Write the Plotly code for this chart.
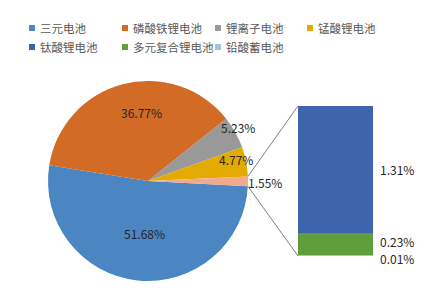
import math
import plotly.graph_objects as go

# ---- data ----
pie_labels = ["三元电池", "磷酸铁锂电池", "锂离子电池", "锰酸锂电池", "其他"]
pie_values = [51.68, 36.77, 5.23, 4.77, 1.55]
bar_labels = ["铅酸蓄电池", "多元复合锂电池", "钛酸锂电池"]
bar_values = [0.01, 0.23, 1.31]
legend_names = ["三元电池", "磷酸铁锂电池", "锂离子电池", "锰酸锂电池",
                "钛酸锂电池", "多元复合锂电池", "铅酸蓄电池"]

# ---- style ----
W, H = 437, 304
FONT = "Noto Sans CJK SC"
pie_colors = ["#4B86C3", "#D16B26", "#999999", "#E3AA00", "#F0AA90"]
bar_colors = ["#9DC3E6", "#5F9E3A", "#3E64AE"]
legend_colors = ["#4B86C3", "#D16B26", "#999999", "#E3AA00",
                 "#3E64AE", "#5F9E3A", "#9DC3E6"]

cx, cy, R = 148, 181, 100          # pie centre / radius in px
rotation = 93                      # start angle of first slice (clockwise from 12 o'clock)
bar_x0, bar_x1 = 298, 373          # bar left/right px
bar_top, bar_bot = 106, 256        # bar top/bottom px

def px(x):
    return x / W

def py(y):
    return 1 - y / H

fig = go.Figure()

fig.add_trace(go.Pie(
    labels=pie_labels, values=pie_values, sort=False, direction="clockwise",
    rotation=rotation, textinfo="none", hoverinfo="label+percent",
    marker=dict(colors=pie_colors, line=dict(width=0)),
    domain=dict(x=[px(cx - R), px(cx + R)], y=[py(cy + R), py(cy - R)]),
    showlegend=False,
))

for lab, val, col in zip(bar_labels, bar_values, bar_colors):
    fig.add_trace(go.Bar(x=[0], y=[val], name=lab, width=1,
                         marker=dict(color=col, line=dict(width=0)),
                         showlegend=False, xaxis="x", yaxis="y"))

total_bar = sum(bar_values)

# ---- connector lines from the "other" slice to the bar ----
start_other = rotation - pie_values[-1] / sum(pie_values) * 360
angles = [start_other, rotation]
for ang, by in zip(angles, [bar_top, bar_bot]):
    a = math.radians(ang)
    x0 = cx + R * math.sin(a)
    y0 = cy - R * math.cos(a)
    fig.add_shape(type="line", xref="paper", yref="paper",
                  x0=px(x0), y0=py(y0), x1=px(bar_x0), y1=py(by),
                  line=dict(color="#7F7F7F", width=1))

# ---- pie labels ----
pie_label_pos = [(122, 244), (119, 112), (238, 127), (236, 159), (265, 182)]
for v, (lx, ly) in zip(pie_values, pie_label_pos):
    fig.add_annotation(x=px(lx), y=py(ly), xref="paper", yref="paper",
                       text=f"{v:.2f}%", showarrow=False,
                       font=dict(family=FONT, size=12, color="#262626"))

# ---- bar labels ----
cum = 0
shifts = [-3, 2, 0]
for v, s in zip(bar_values, shifts):
    mid = cum + v / 2
    cum += v
    fig.add_annotation(x=px(378), y=mid, xref="paper", yref="y",
                       text=f"{v:.2f}%", showarrow=False, xanchor="left",
                       yshift=s,
                       font=dict(family=FONT, size=12, color="#262626"))

# ---- legend (manual) ----
leg_x = [29, 122, 215, 307]
leg_y = [28, 47]
for i, (name, col) in enumerate(zip(legend_names, legend_colors)):
    r, c = divmod(i, 4)
    mx, my = leg_x[c], leg_y[r]
    fig.add_shape(type="rect", xref="paper", yref="paper",
                  x0=px(mx), x1=px(mx + 6), y0=py(my - 3), y1=py(my + 3),
                  fillcolor=col, line=dict(width=0))
    fig.add_annotation(x=px(mx + 9), y=py(my), xref="paper", yref="paper",
                       text=name, showarrow=False, xanchor="left",
                       yanchor="middle",
                       font=dict(family=FONT, size=11.5, color="#595959"))

fig.update_layout(
    width=W, height=H, margin=dict(l=0, r=0, t=0, b=0),
    paper_bgcolor="white", plot_bgcolor="white",
    barmode="stack", bargap=0,
    xaxis=dict(domain=[px(bar_x0), px(bar_x1)], range=[-0.5, 0.5],
               visible=False, fixedrange=True),
    yaxis=dict(domain=[py(bar_bot), py(bar_top)], range=[0, total_bar],
               visible=False, fixedrange=True),
    showlegend=False,
)

fig.write_html("out.html")
